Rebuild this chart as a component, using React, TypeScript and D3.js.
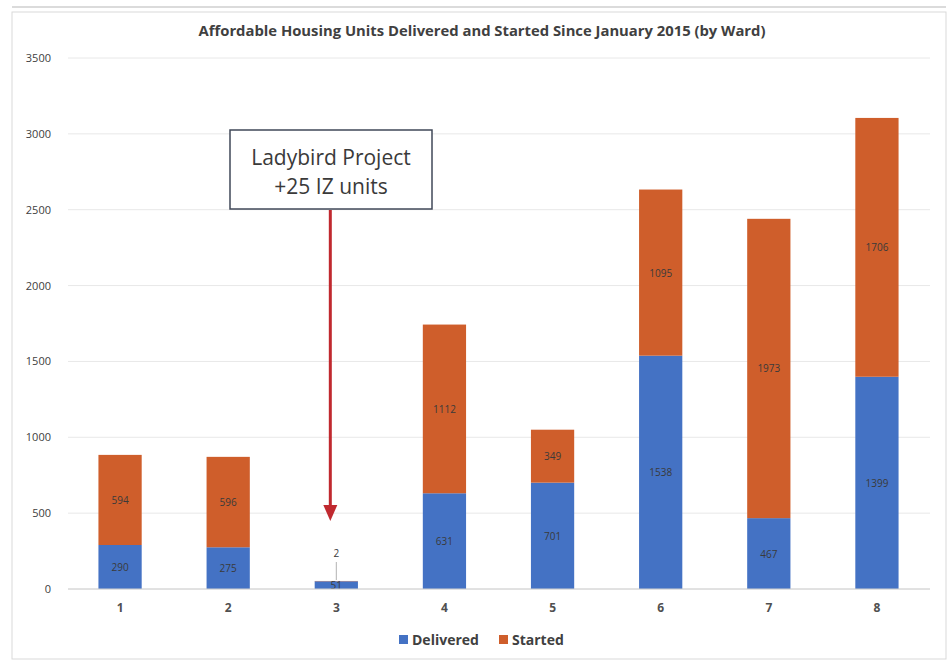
import React from "react";
import * as d3 from "d3";

const wards = ["1", "2", "3", "4", "5", "6", "7", "8"];
const delivered = [290, 275, 51, 631, 701, 1538, 467, 1399];
const started = [594, 596, 2, 1112, 349, 1095, 1973, 1706];
const yTicks = [0, 500, 1000, 1500, 2000, 2500, 3000, 3500];
const seriesNames = ["Delivered", "Started"];
const title = "Affordable Housing Units Delivered and Started Since January 2015 (by Ward)";
const annotationLines = ["Ladybird Project", "+25 IZ units"];
const annotationWard = "3";

const W = 951;
const H = 663;
const colors = ["#4472C4", "#CF5E2B"];
const font = "'Open Sans', 'Liberation Sans', sans-serif";

export default function App() {
  const x = d3.scaleBand().domain(wards).range([66, 931]).paddingInner(0.6).paddingOuter(0.3);
  const y = d3.scaleLinear().domain([0, 3500]).range([589, 58]);
  const rows = wards.map((w, i) => ({ ward: w, Delivered: delivered[i], Started: started[i] }));
  const stack = d3.stack<any>().keys(seriesNames)(rows);
  const bw = x.bandwidth();
  const annX = (x(annotationWard) as number) + bw / 2;
  const idx3 = wards.indexOf(annotationWard);

  return (
    <svg width={W} height={H} style={{ position: "absolute", left: 0, top: 0, background: "#fff" }}>
      <rect x={12} y={12} width={934} height={647} fill="#fff" stroke="#d9d9d9" strokeWidth={1} />
      <line x1={12} x2={946} y1={7} y2={7} stroke="#cfcfcf" strokeWidth={1.5} />
      <text x={482} y={36} textAnchor="middle" fontFamily={font} fontWeight={700} fontSize={14.8} fill="#404040">
        {title}
      </text>
      {yTicks.map((t) => (
        <g key={t}>
          <line x1={68} x2={930} y1={y(t)} y2={y(t)} stroke="#e8e8e8" strokeWidth={1} />
          <text x={51} y={y(t) + 4} textAnchor="end" fontFamily={font} fontSize={11} fill="#404040">
            {t}
          </text>
        </g>
      ))}
      {stack.map((s, si) =>
        s.map((d, i) => (
          <rect
            key={si + "-" + i}
            x={x(wards[i])}
            y={y(d[1])}
            width={bw}
            height={y(d[0]) - y(d[1])}
            fill={colors[si]}
          />
        ))
      )}
      {stack.map((s, si) =>
        s.map((d, i) => {
          const isSmall = i === idx3 && si === 1;
          const cx = (x(wards[i]) as number) + bw / 2;
          const cy = isSmall ? 557 : (y(d[0]) + y(d[1])) / 2 + 4;
          return (
            <text key={"l" + si + "-" + i} x={cx} y={cy} textAnchor="middle" fontFamily={font} fontSize={10} fill="#3a3a3a">
              {si === 0 ? delivered[i] : started[i]}
            </text>
          );
        })
      )}
      <line x1={annX} x2={annX} y1={562} y2={580} stroke="#a0a0a0" strokeWidth={0.8} />
      <line x1={68} x2={930} y1={y(0)} y2={y(0)} stroke="#d0d0d0" strokeWidth={1} />
      {wards.map((w) => (
        <text key={w} x={(x(w) as number) + bw / 2} y={612} textAnchor="middle" fontFamily={font} fontWeight={700} fontSize={12} fill="#505050">
          {w}
        </text>
      ))}
      {seriesNames.map((n, i) => {
        const lx = i === 0 ? 399 : 499;
        return (
          <g key={n}>
            <rect x={lx} y={635} width={9} height={9} fill={colors[i]} />
            <text x={lx + 13} y={645} fontFamily={font} fontWeight={700} fontSize={14} fill="#404040">
              {n}
            </text>
          </g>
        );
      })}
      <line x1={annX - 6} x2={annX - 6} y1={210} y2={508} stroke="#C0292F" strokeWidth={3} />
      <path d={`M${annX - 13},505 L${annX + 1},505 L${annX - 6},521 Z`} fill="#C0292F" />
      <rect x={230} y={130} width={202} height={79} fill="#fff" stroke="#404858" strokeWidth={1.5} />
      {annotationLines.map((t, i) => (
        <text key={t} x={331} y={165 + i * 29} textAnchor="middle" fontFamily={font} fontSize={21} fill="#3a3a3a">
          {t}
        </text>
      ))}
    </svg>
  );
}
